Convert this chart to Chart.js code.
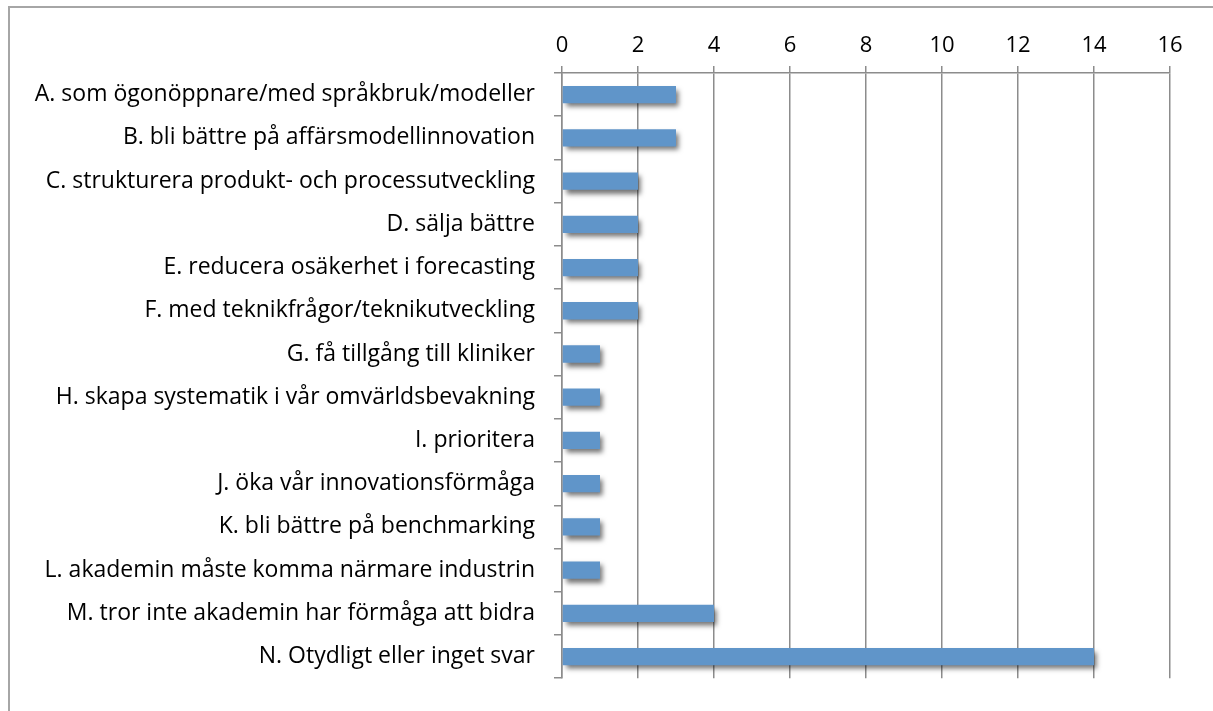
<!DOCTYPE html>
<html lang="en">
<head>
    <meta charset="UTF-8">
    <title>Svar</title>
    <script src="https://cdn.jsdelivr.net/npm/chart.js"></script>
    <style>
        body {
            margin: 0;
            background: #ffffff;
            font-family: "Open Sans", sans-serif;
        }
        .frame {
            position: absolute;
            left: 8px;
            top: 6px;
            width: 1220px;
            height: 720px;
            border: 2px solid #a6a6a6;
        }
        #chart-wrap {
            position: absolute;
            left: 0;
            top: 0;
            width: 1213px;
            height: 711px;
        }
    </style>
</head>
<body>
    <div class="frame"></div>
    <div id="chart-wrap">
        <canvas id="answersChart"></canvas>
    </div>

    <script>
        // categories and counts
        var categories = [
            'A. som ögonöppnare/med språkbruk/modeller',
            'B. bli bättre på affärsmodellinnovation',
            'C. strukturera produkt- och processutveckling',
            'D. sälja bättre',
            'E. reducera osäkerhet i forecasting',
            'F. med teknikfrågor/teknikutveckling',
            'G. få tillgång till kliniker',
            'H. skapa systematik i vår omvärldsbevakning',
            'I. prioritera',
            'J. öka vår innovationsförmåga',
            'K. bli bättre på benchmarking',
            'L. akademin måste komma närmare industrin',
            'M. tror inte akademin har förmåga att bidra',
            'N. Otydligt eller inget svar'
        ];
        var counts = [3, 3, 2, 2, 2, 2, 1, 1, 1, 1, 1, 1, 4, 14];
        var xTicks = [0, 2, 4, 6, 8, 10, 12, 14, 16];

        // drop shadow under the bars
        var barShadow = {
            id: 'barShadow',
            beforeDatasetsDraw: function(chart) {
                var ctx = chart.ctx;
                ctx.save();
                ctx.shadowColor = 'rgba(0, 0, 0, 0.55)';
                ctx.shadowBlur = 5;
                ctx.shadowOffsetX = 3;
                ctx.shadowOffsetY = 4;
            },
            afterDatasetsDraw: function(chart) {
                chart.ctx.restore();
            }
        };

        function initChart() {
            new Chart(document.getElementById('answersChart'), {
                type: 'bar',
                data: {
                    labels: categories,
                    datasets: [{
                        data: counts,
                        backgroundColor: '#6095c9',
                        borderWidth: 0,
                        barPercentage: 0.4,
                        categoryPercentage: 1.0
                    }]
                },
                options: {
                    indexAxis: 'y',
                    responsive: true,
                    maintainAspectRatio: false,
                    animation: false,
                    layout: {
                        padding: { left: 10, right: 43, top: 20, bottom: 27 }
                    },
                    plugins: {
                        legend: { display: false },
                        tooltip: { enabled: false }
                    },
                    scales: {
                        x: {
                            position: 'top',
                            min: 0,
                            max: 16,
                            afterBuildTicks: function(scale) {
                                scale.ticks = xTicks.map(function(v) { return { value: v }; });
                            },
                            afterFit: function(scale) {
                                scale.height = 53;
                            },
                            grid: {
                                color: '#8c8c8c',
                                lineWidth: 1.5,
                                tickLength: 7
                            },
                            border: { color: '#8c8c8c', width: 1.5 },
                            ticks: {
                                color: '#000000',
                                padding: 7,
                                font: { family: 'Open Sans', size: 22 }
                            }
                        },
                        y: {
                            afterFit: function(scale) {
                                scale.width = 552;
                            },
                            grid: {
                                offset: true,
                                drawOnChartArea: false,
                                color: '#8c8c8c',
                                lineWidth: 1.5,
                                tickLength: 8
                            },
                            border: { color: '#8c8c8c', width: 1.5 },
                            ticks: {
                                color: '#000000',
                                padding: 19,
                                font: { family: 'Open Sans', size: 23 }
                            }
                        }
                    }
                },
                plugins: [barShadow]
            });
        }

        document.addEventListener('DOMContentLoaded', function() {
            initChart();
        });
    </script>
</body>
</html>
